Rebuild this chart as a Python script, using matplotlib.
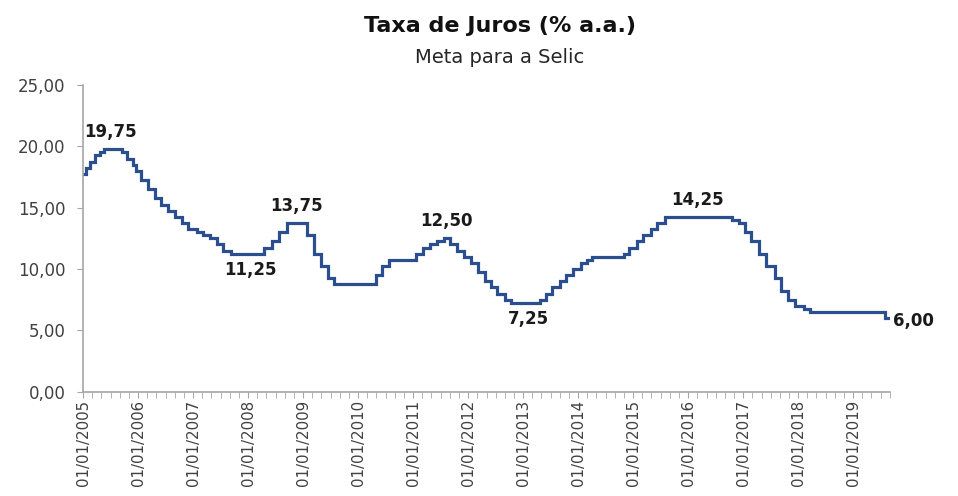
import matplotlib
matplotlib.use("Agg")
import matplotlib.pyplot as plt
import matplotlib.dates as mdates
import matplotlib.ticker as mticker
import numpy as np
from datetime import datetime

plt.rcParams['font.family'] = ['DejaVu Sans']

# Selic target changes (date of change, new rate)
change_dates = ["2005-01-01", "2005-01-20", "2005-02-17", "2005-03-17", "2005-04-21", "2005-05-19",
                "2005-09-15", "2005-10-20", "2005-11-24", "2005-12-15",
                "2006-01-19", "2006-03-09", "2006-04-20", "2006-06-01", "2006-07-20", "2006-08-31",
                "2006-10-19", "2006-11-30",
                "2007-01-25", "2007-03-08", "2007-04-19", "2007-06-07", "2007-07-19", "2007-09-06",
                "2008-04-17", "2008-06-05", "2008-07-24", "2008-09-11",
                "2009-01-22", "2009-03-12", "2009-04-30", "2009-06-11", "2009-07-23",
                "2010-04-29", "2010-06-10", "2010-07-22",
                "2011-01-20", "2011-03-03", "2011-04-21", "2011-06-09", "2011-07-21", "2011-09-01",
                "2011-10-20", "2011-12-01",
                "2012-01-19", "2012-03-08", "2012-04-19", "2012-05-31", "2012-07-12", "2012-08-30",
                "2012-10-11",
                "2013-04-18", "2013-05-30", "2013-07-11", "2013-08-29", "2013-10-10", "2013-11-28",
                "2014-01-16", "2014-02-27", "2014-04-03", "2014-10-30", "2014-12-04",
                "2015-01-22", "2015-03-05", "2015-04-30", "2015-06-04", "2015-07-30",
                "2016-10-20", "2016-12-01",
                "2017-01-12", "2017-02-23", "2017-04-13", "2017-06-01", "2017-07-27", "2017-09-07",
                "2017-10-26", "2017-12-07",
                "2018-02-08", "2018-03-22",
                "2019-08-01", "2019-08-31"]
selic = [17.75, 18.25, 18.75, 19.25, 19.50, 19.75,
         19.50, 19.00, 18.50, 18.00,
         17.25, 16.50, 15.75, 15.25, 14.75, 14.25,
         13.75, 13.25,
         13.00, 12.75, 12.50, 12.00, 11.50, 11.25,
         11.75, 12.25, 13.00, 13.75,
         12.75, 11.25, 10.25, 9.25, 8.75,
         9.50, 10.25, 10.75,
         11.25, 11.75, 12.00, 12.25, 12.50, 12.00,
         11.50, 11.00,
         10.50, 9.75, 9.00, 8.50, 8.00, 7.50,
         7.25,
         7.50, 8.00, 8.50, 9.00, 9.50, 10.00,
         10.50, 10.75, 11.00, 11.25, 11.75,
         12.25, 12.75, 13.25, 13.75, 14.25,
         14.00, 13.75,
         13.00, 12.25, 11.25, 10.25, 9.25, 8.25,
         7.50, 7.00,
         6.75, 6.50,
         6.00, 6.00]

# highlighted values: (date, value, label, position)
label_dates = ["2005-07-01", "2008-01-15", "2008-11-15", "2011-08-10", "2013-02-01", "2016-03-01", "2019-09-01"]
label_vals = [19.75, 11.25, 13.75, 12.50, 7.25, 14.25, 6.00]
label_text = ["19,75", "11,25", "13,75", "12,50", "7,25", "14,25", "6,00"]
label_pos = ["above", "below", "above", "above", "below", "above", "right"]

dates = [datetime.strptime(d, "%Y-%m-%d") for d in change_dates]

fig = plt.figure(figsize=(9.58, 4.96), dpi=100)
ax = fig.add_axes([0.087, 0.21, 0.842, 0.619])

ax.step(dates, selic, where='post', color='#2b4f8e', lw=2.3, solid_joinstyle='miter')

for d, v, t, p in zip(label_dates, label_vals, label_text, label_pos):
    dd = datetime.strptime(d, "%Y-%m-%d")
    if p == "above":
        ax.annotate(t, (dd, v), xytext=(0, 6), textcoords='offset points', ha='center', va='bottom',
                    fontsize=12, fontweight='bold', color='#1a1a1a')
    elif p == "below":
        ax.annotate(t, (dd, v), xytext=(0, -5), textcoords='offset points', ha='center', va='top',
                    fontsize=12, fontweight='bold', color='#1a1a1a')
    else:
        ax.annotate(t, (dd, v), xytext=(2, -2), textcoords='offset points', ha='left', va='center',
                    fontsize=12, fontweight='bold', color='#1a1a1a')

ax.set_ylim(0, 25)
ax.set_yticks(np.arange(0, 26, 5))
ax.yaxis.set_major_formatter(mticker.FuncFormatter(lambda y, _: f"{y:.2f}".replace('.', ',')))
ax.set_xlim(datetime(2005, 1, 1), datetime(2019, 9, 1))
ax.xaxis.set_major_locator(mdates.YearLocator())
ax.xaxis.set_major_formatter(mdates.DateFormatter("%d/%m/%Y"))
ax.xaxis.set_minor_locator(mdates.MonthLocator(bymonth=[3, 5, 7, 9, 11]))
plt.setp(ax.get_xticklabels(), rotation=90)

for s in ['top', 'right']:
    ax.spines[s].set_visible(False)
for s in ['left', 'bottom']:
    ax.spines[s].set_color('#a6a6a6')
    ax.spines[s].set_linewidth(1.2)
ax.tick_params(axis='y', colors='#a6a6a6', labelcolor='#404040', labelsize=12, length=4, pad=9)
ax.tick_params(axis='x', which='major', colors='#a6a6a6', labelcolor='#404040', labelsize=10.8,
               length=4, pad=2)
ax.tick_params(axis='x', which='minor', colors='#a6a6a6', length=4)

fig.text(0.522, 0.948, "Taxa de Juros (% a.a.)", ha='center', va='center', fontsize=16,
         fontweight='bold', color='#111111')
fig.text(0.522, 0.885, "Meta para a Selic", ha='center', va='center', fontsize=14, color='#262626')

fig.savefig("out.png", dpi=100)
